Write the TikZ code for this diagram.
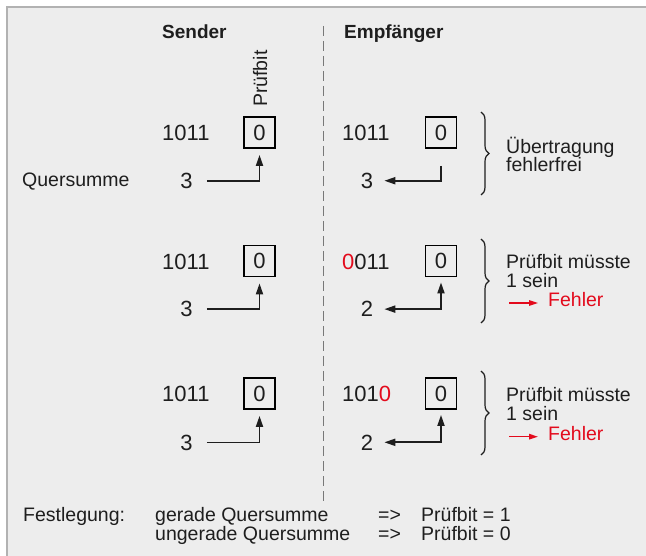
\documentclass[tikz,border=0pt]{standalone}
\usepackage{fontspec}
\setmainfont{Liberation Sans}
\usetikzlibrary{arrows.meta,decorations.pathreplacing,positioning}
\definecolor{bggray}{HTML}{EDEDED}
\definecolor{framegray}{HTML}{B2B2B2}
\definecolor{fehlerrot}{HTML}{E30A1C}
\definecolor{ink}{HTML}{1E1E1E}
\tikzset{
every txt/.style={font=\fontsize{19.5}{23}\selectfont},
}
\begin{document}
\begin{tikzpicture}[x=1pt, y=-1pt, text=ink,
						txt/.style={every txt, anchor=base west, inner sep=0pt},
                        bits/.style={anchor=base west, inner sep=0pt, font=\fontsize{22}{26}\selectfont},
                        qsum/.style={anchor=base, inner sep=0pt, font=\fontsize{22}{26}\selectfont},
                        pbox/.style={draw=black, line width=1.8pt, minimum size=31pt, inner sep=0pt, font=\fontsize{22}{26}\selectfont},
                        arr/.style={draw=ink, line width=1.8pt},
                        brc/.style={draw=ink, line width=1.2pt, decorate, decoration={brace, amplitude=8pt}},
					]
					\useasboundingbox (0,0) rectangle (646,556);
					\fill[bggray] (7,7) rectangle (646,556);
					\draw[framegray, line width=2pt] (7,556) -- (7,7) -- (646,7);
					\draw[ink!60, line width=1pt, dash pattern=on 10pt off 5pt] (323,26) -- (323,503);
					% headings
					\node[txt, font=\bfseries\fontsize{19}{23}\selectfont] (send) at (162,39) {Sender};
					\node[txt, font=\bfseries\fontsize{19}{23}\selectfont] (empf) at (344,39) {Empfänger};
					\node[txt, rotate=90] (pbit) at (267,107) {Prüfbit};
					\node[txt] (qs) at (22,187) {Quersumme};
					% row 1
					\node[bits] (s1) at (162,141) {1011}; \node[pbox] (sb1) at (259.5,132.5) {0};
					\node[qsum] (sq1) at (186.5,188.3) {3};
					\draw[arr, -{Triangle[length=11pt,width=7pt]}, shorten <=14pt, shorten >=6pt] (sq1.east) -| (sb1.south);
					\node[bits] (e1) at (342,141) {1011}; \node[pbox] (eb1) at (441,132.5) {0};
					\node[qsum] (eq1) at (367,188.3) {3};
					\draw[arr, -{Triangle[length=11pt,width=7pt]}, shorten <=17pt, shorten >=11pt] (eb1.south) |- (eq1.east);
					\draw[brc] (481,112) -- (481,195);
					\node[txt] (t1) at (506,153.3) {Übertragung};
					\node[txt] (t1b) at ([yshift=-18.5pt]t1.base west) {fehlerfrei};
					% row 2
					\node[bits] (s2) at (162,269.5) {1011}; \node[pbox] (sb2) at (259.5,261) {0};
					\node[qsum] (sq2) at (186.5,316.8) {3};
					\draw[arr, -{Triangle[length=11pt,width=7pt]}, shorten <=14pt, shorten >=6pt] (sq2.east) -| (sb2.south);
					\node[bits] (e2) at (342,269.5) {{\color{fehlerrot}0}011}; \node[pbox] (eb2) at (441,261) {0};
					\node[qsum] (eq2) at (367,316.8) {2};
					\draw[arr, {Triangle[length=11pt,width=7pt]}-{Triangle[length=11pt,width=7pt]}, shorten <=5pt, shorten >=11pt] (eb2.south) |- (eq2.east);
					\draw[brc] (481,239) -- (481,323);
					\node[txt] (t2) at (506,268.5) {Prüfbit müsste};
					\node[txt] (t2b) at ([yshift=-19pt]t2.base west) {1 sein};
					\node[txt, text=fehlerrot] (f2) at (548,307) {Fehler};
					\coordinate (a2) at (509,303);
					\draw[fehlerrot, line width=1.4pt, -{Triangle[length=9pt,width=5.5pt]}, shorten >=10pt] (a2) -- (a2 -| f2.west);
					% row 3
					\node[bits] (s3) at (162,402) {1011}; \node[pbox] (sb3) at (259.5,393.5) {0};
					\node[qsum] (sq3) at (186.5,450) {3};
					\draw[arr, -{Triangle[length=11pt,width=7pt]}, shorten <=14pt, shorten >=6pt] (sq3.east) -| (sb3.south);
					\node[bits] (e3) at (342,402) {101{\color{fehlerrot}0}}; \node[pbox] (eb3) at (441,393.5) {0};
					\node[qsum] (eq3) at (367,450) {2};
					\draw[arr, {Triangle[length=11pt,width=7pt]}-{Triangle[length=11pt,width=7pt]}, shorten <=5pt, shorten >=11pt] (eb3.south) |- (eq3.east);
					\draw[brc] (481,371) -- (481,455);
					\node[txt] (t3) at (506,401.7) {Prüfbit müsste};
					\node[txt] (t3b) at ([yshift=-19pt]t3.base west) {1 sein};
					\node[txt, text=fehlerrot] (f3) at (548,440.7) {Fehler};
					\coordinate (a3) at (509,436.7);
					\draw[fehlerrot, line width=1.4pt, -{Triangle[length=9pt,width=5.5pt]}, shorten >=10pt] (a3) -- (a3 -| f3.west);
					% Festlegung
					\node[txt] (fest) at (23,521.7) {Festlegung:};
					\node[txt] (ger) at (155,521.7) {gerade Quersumme};
					\node[txt] (imp1) at (378,521.7) {=>};
					\node[txt] (reg1) at (421,521.7) {Prüfbit = 1};
					\node[txt] (unger) at (155,540) {ungerade Quersumme};
					\node[txt] (imp2) at (378,540) {=>};
					\node[txt] (reg2) at (421,540) {Prüfbit = 0};
	\end{tikzpicture}
\end{document}
